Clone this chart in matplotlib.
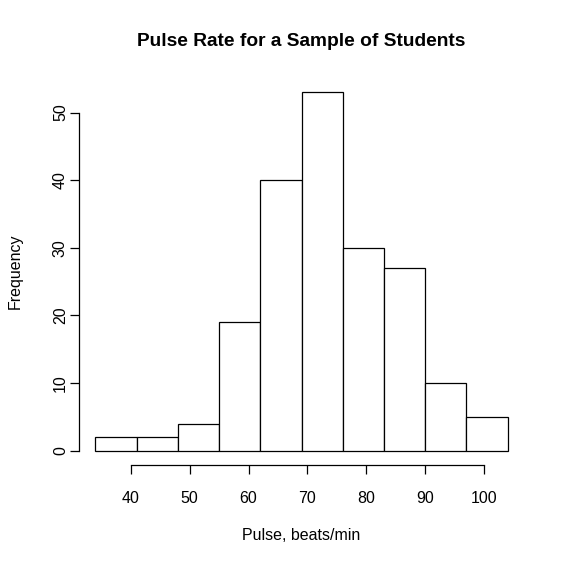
import numpy as np
import matplotlib.pyplot as plt

plt.rcParams['font.family'] = ['Liberation Sans', 'DejaVu Sans']

# Histogram of student pulse rates (bins of width 7)
bin_edges = [34, 41, 48, 55, 62, 69, 76, 83, 90, 97, 104]
counts = [2, 2, 4, 19, 40, 53, 30, 27, 10, 5]
xticks = [40, 50, 60, 70, 80, 90, 100]
yticks = [0, 10, 20, 30, 40, 50]

fig = plt.figure(figsize=(5.65, 5.64), dpi=100)
ax = fig.add_axes([79/565, 1 - 465/564, 445/565, 387/564])

left = np.array(bin_edges[:-1])
widths = np.diff(bin_edges)
ax.bar(left, counts, width=widths, align='edge', color='white',
       edgecolor='black', linewidth=0.9)

# R style: axis range padded 4% each side
xr = bin_edges[-1] - bin_edges[0]
ax.set_xlim(bin_edges[0] - 0.04*xr, bin_edges[-1] + 0.04*xr)
ax.set_ylim(-0.04*max(counts), max(counts)*1.04)

for s in ['top', 'right']:
    ax.spines[s].set_visible(False)
ax.spines['left'].set_bounds(yticks[0], yticks[-1])
ax.spines['bottom'].set_bounds(xticks[0], xticks[-1])
ax.spines['left'].set_linewidth(0.9)
ax.spines['bottom'].set_linewidth(0.9)

fs = 11.5
ax.set_xticks(xticks)
ax.set_yticks(yticks)
ax.set_yticklabels([str(v) for v in yticks], rotation=90, va='center')
ax.tick_params(direction='out', length=6.5, width=0.9, labelsize=fs)
ax.tick_params(axis='x', pad=12)
ax.tick_params(axis='y', pad=1.5)

ax.set_xlabel('Pulse, beats/min', fontsize=fs, va='center')
ax.xaxis.set_label_coords(0.5, -(535 - 465)/387)
ax.set_ylabel('Frequency', fontsize=fs, va='center')
ax.yaxis.set_label_coords(-(79 - 15)/445, 0.5)

fig.text(301.5/565, 1 - 41/564, 'Pulse Rate for a Sample of Students',
         ha='center', va='center', fontsize=13.8, fontweight='bold')

plt.savefig('out.png', dpi=100)
